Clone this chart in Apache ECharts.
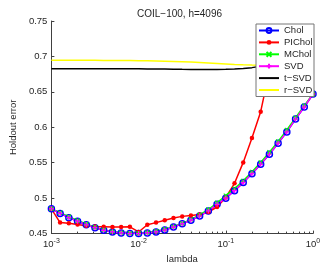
<!DOCTYPE html>
<html>
<head>
<meta charset="utf-8">
<script src="https://cdn.jsdelivr.net/npm/echarts@6/dist/echarts.min.js"></script>
<style>
html,body{margin:0;padding:0;background:#fff;}
#c{width:324px;height:269px;}
</style>
</head>
<body>
<div id="c"></div>
<script>
var titleText = 'COIL\u2212100, h=4096';
var xName = 'lambda';
var yName = 'Holdout error';
var seriesNames = ['Chol', 'PIChol', 'MChol', 'SVD', 't\u2212SVD', 'r\u2212SVD'];
var lambda = [0.001, 0.001259, 0.001585, 0.001995, 0.002512, 0.003162, 0.003981, 0.005012, 0.00631, 0.007943,
  0.01, 0.01259, 0.01585, 0.01995, 0.02512, 0.03162, 0.03981, 0.05012, 0.0631, 0.07943,
  0.1, 0.1259, 0.1585, 0.1995, 0.2512, 0.3162, 0.3981, 0.5012, 0.631, 0.7943, 1];
var chol = [0.485, 0.4785, 0.4725, 0.4675, 0.4624, 0.4583, 0.4546, 0.4523, 0.451, 0.4500,
  0.4500, 0.451, 0.4523, 0.455, 0.4592, 0.4638, 0.4689, 0.4748, 0.482, 0.4913,
  0.500, 0.5106, 0.522, 0.5345, 0.5478, 0.562, 0.5776, 0.5935, 0.6116, 0.6286, 0.647];
var pichol = [0.485, 0.4656, 0.4645, 0.463, 0.461, 0.460, 0.4596, 0.4592, 0.4592, 0.4595,
  0.4523, 0.4625, 0.4655, 0.4689, 0.472, 0.4743, 0.4757, 0.477, 0.4805, 0.4875,
  0.501, 0.521, 0.5505, 0.585, 0.622, 0.68, 0.71, 0.725, 0.73, 0.735, 0.647];
var mchol = [0.485, 0.4795, 0.4738, 0.4685, 0.4635, 0.459, 0.4552, 0.4528, 0.4513, 0.4505,
  0.4505, 0.4515, 0.4535, 0.4562, 0.4598, 0.4645, 0.470, 0.4765, 0.484, 0.4935,
  0.5035, 0.5135, 0.5245, 0.537, 0.5505, 0.5648, 0.580, 0.5962, 0.6135, 0.6305, 0.647];
var svd = [0.485, 0.4785, 0.4725, 0.4675, 0.4624, 0.4583, 0.4546, 0.4523, 0.451, 0.4500,
  0.4500, 0.451, 0.4523, 0.455, 0.4592, 0.4638, 0.4689, 0.4748, 0.482, 0.4913,
  0.500, 0.5106, 0.522, 0.5345, 0.5478, 0.562, 0.5776, 0.5935, 0.6116, 0.6286, 0.647];
var tsvd = [0.6825, 0.6825, 0.6825, 0.6825, 0.6825, 0.6825, 0.6825, 0.6825, 0.6825, 0.6825,
  0.6825, 0.6824, 0.6823, 0.6822, 0.682, 0.6818, 0.6817, 0.6816, 0.6816, 0.6817,
  0.6818, 0.6822, 0.683, 0.6842, 0.686, 0.688, 0.690, 0.693, 0.697, 0.702, 0.708];
var rsvd = [0.6947, 0.6947, 0.6946, 0.6946, 0.6945, 0.6945, 0.6944, 0.6943, 0.6942, 0.6941,
  0.694, 0.6938, 0.6936, 0.6933, 0.693, 0.6926, 0.6921, 0.6915, 0.6908, 0.6901,
  0.6894, 0.6887, 0.6882, 0.6878, 0.6876, 0.688, 0.689, 0.691, 0.695, 0.700, 0.708];
var yTicks = [0.45, 0.5, 0.55, 0.6, 0.65, 0.7, 0.75];
var xMinorTicks = [0.002, 0.003, 0.004, 0.005, 0.006, 0.007, 0.008, 0.009,
  0.02, 0.03, 0.04, 0.05, 0.06, 0.07, 0.08, 0.09,
  0.2, 0.3, 0.4, 0.5, 0.6, 0.7, 0.8, 0.9];

function pairs(ys) { return lambda.map(function (x, i) { return [x, ys[i]]; }); }

var FONT = 'Liberation Sans, Arial, Helvetica, sans-serif';
var TXT = '#262626';
var AX = '#404040';

var chart = echarts.init(document.getElementById('c'), null, {renderer: 'canvas'});
var plusPath = 'path://M0,5L10,5M5,0L5,10';
var crossPath = 'path://M0,0L10,10M10,0L0,10';

function mk(name, data, color, sym, size, kind) {
  var s = {
    name: name, type: 'line', data: pairs(data),
    symbol: sym, symbolSize: size, showSymbol: sym !== 'none',
    lineStyle: {color: color, width: 1.5},
    itemStyle: {color: color},
    clip: true, animation: false, z: 2
  };
  if (kind === 'hollow') {
    s.itemStyle = {color: 'rgba(0,0,0,0)', borderColor: color, borderWidth: 1.5};
  } else if (kind === 'stroke') {
    s.itemStyle = {color: 'rgba(0,0,0,0)', borderColor: color, borderWidth: 1.2};
  } else if (kind === 'nomark') {
    s.itemStyle = {color: 'rgba(0,0,0,0)', borderColor: 'rgba(0,0,0,0)', borderWidth: 0};
  }
  return s;
}

var option = {
  backgroundColor: '#fff',
  animation: false,
  title: {
    text: titleText, left: 174.5, textAlign: 'center', top: 4,
    textStyle: {fontFamily: FONT, fontSize: 10, fontWeight: 'normal', color: TXT}
  },
  grid: {left: 36, right: 11, top: 21, bottom: 30, containLabel: false},
  legend: {
    orient: 'vertical', left: 256, top: 24, z: 20,
    padding: [1, 1, 1, 2],
    itemWidth: 20, itemHeight: 6, itemGap: 0.9,
    backgroundColor: '#fff', borderColor: '#777', borderWidth: 1,
    textStyle: {fontFamily: FONT, fontSize: 9.5, color: TXT, width: 29, lineHeight: 11},
    data: seriesNames
  },
  xAxis: [{
    type: 'log', logBase: 10, min: 0.001, max: 1,
    name: xName, nameLocation: 'middle', nameGap: 15,
    nameTextStyle: {fontFamily: FONT, fontSize: 9.5, color: TXT},
    axisLine: {show: true, lineStyle: {color: AX, width: 1}},
    axisTick: {show: true, inside: true, length: 3, lineStyle: {color: AX}},
    splitLine: {show: false},
    axisLabel: {
      margin: 4, color: TXT, fontFamily: FONT, fontSize: 9.5,
      formatter: function (v) {
        var e = Math.round(Math.log10(v));
        return '10{s|' + e + '}';
      },
      rich: {s: {fontSize: 7, fontFamily: FONT, color: TXT, verticalAlign: 'bottom', padding: [0, 0, 6, 0]}}
    }
  }, {
    type: 'log', logBase: 10, min: 0.001, max: 1, position: 'bottom', offset: 0,
    axisLine: {show: false},
    axisLabel: {show: false},
    splitLine: {show: false},
    axisTick: {show: true, inside: true, length: 2, customValues: xMinorTicks, lineStyle: {color: AX}}
  }],
  yAxis: {
    type: 'value', min: 0.45, max: 0.75, interval: 0.05,
    name: yName, nameLocation: 'middle', nameGap: 26, nameRotate: 90,
    nameTextStyle: {fontFamily: FONT, fontSize: 9.5, color: TXT},
    axisLine: {show: true, lineStyle: {color: AX, width: 1}},
    axisTick: {show: true, inside: true, length: 3, lineStyle: {color: AX}},
    splitLine: {show: false},
    axisLabel: {
      margin: 4, color: TXT, fontFamily: FONT, fontSize: 9.5,
      customValues: yTicks,
      formatter: function (v) { return String(Math.round(v * 100) / 100); }
    }
  },
  series: [
    mk(seriesNames[0], chol, '#0000ff', 'circle', 6, 'hollow'),
    mk(seriesNames[1], pichol, '#ff0000', 'circle', 4.5, 'fill'),
    mk(seriesNames[2], mchol, '#00ff00', crossPath, 4, 'stroke'),
    mk(seriesNames[3], svd, '#ff00ff', plusPath, 5, 'stroke'),
    mk(seriesNames[4], tsvd, '#000000', 'none', 0, 'nomark'),
    mk(seriesNames[5], rsvd, '#ffff00', 'none', 0, 'nomark')
  ]
};
chart.setOption(option);
</script>
</body>
</html>
